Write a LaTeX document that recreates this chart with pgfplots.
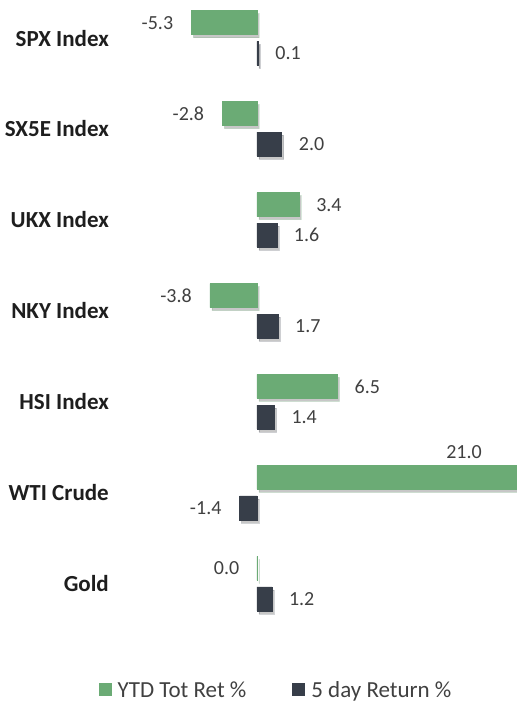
\documentclass[border=0pt]{standalone}
\usepackage{pgfplots}
\pgfplotsset{compat=1.18}
\usepackage{fontspec}
\setmainfont{Carlito}
\usetikzlibrary{shadows}
\definecolor{ytd}{RGB}{107,171,117}
\definecolor{fday}{RGB}{55,62,73}
\definecolor{lbl}{RGB}{64,64,64}
\definecolor{cat}{RGB}{30,30,30}

\pgfplotstableread{
y x
0 -5.3
1 -2.8
2 3.4
3 -3.8
4 6.5
5 21.0
6 0.04
}\ytdtab

\pgfplotstableread{
y x
0 0.1
1 2.0
2 1.6
3 1.7
4 1.4
5 -1.4
6 1.2
}\fdaytab

% labels left of bar ends
\pgfplotstableread{
x y lab
-5.3 -0.168 -5.3
-2.8 0.832 -2.8
-3.8 2.832 -3.8
0.04 5.832 0.0
-1.4 5.168 -1.4
}\labeast

% labels right of bar ends
\pgfplotstableread{
x y lab
3.4 1.832 3.4
6.5 3.832 6.5
0.1 0.168 0.1
2.0 1.168 2.0
1.6 2.168 1.6
1.7 3.168 1.7
1.4 4.168 1.4
1.2 6.168 1.2
}\labwest

% label above the long bar
\pgfplotstableread{
x y lab
21.0 4.832 21.0
}\labtop

\tikzset{vlab/.style={inner sep=0pt, font=\fontsize{20}{24}\selectfont, text=lbl}}

\begin{document}
\begin{tikzpicture}
\path[use as bounding box] (-110pt,0pt) rectangle (407pt,-705pt);
\begin{axis}[
  at={(0pt,0pt)}, anchor=north west,
  scale only axis, width=407pt, height=640pt,
  xmin=-11.87, xmax=21, ymin=-0.418, ymax=6.62,
  y dir=reverse,
  clip=false,
  axis line style={draw=none},
  major tick length=0pt,
  xtick=\empty,
  ytick={0,...,6},
  yticklabels={SPX Index, SX5E Index, UKX Index, NKY Index, HSI Index, WTI Crude, Gold},
  yticklabel style={font=\fontsize{23}{26}\selectfont\bfseries, text=cat, inner sep=0pt, anchor=east, xshift=-1pt},
  legend columns=2,
  legend cell align=left,
  legend style={at={(0.408,-0.078)}, anchor=center, draw=none, fill=none,
    font=\fontsize{23}{26}\selectfont, text=lbl,
    /tikz/every even column/.append style={column sep=44pt}},
]
\addplot[xbar, bar width=0.264, bar shift=-0.168, fill=ytd, draw=ytd, line width=0.8pt,
  drop shadow={shadow xshift=2pt, shadow yshift=-3pt, opacity=0.22, fill=black}, forget plot]
  table[x=x, y=y] {\ytdtab};
\addplot[xbar, bar width=0.264, bar shift=0.168, fill=fday, draw=fday, line width=0.5pt,
  drop shadow={shadow xshift=2pt, shadow yshift=-3pt, opacity=0.22, fill=black}, forget plot]
  table[x=x, y=y] {\fdaytab};
\addplot[draw=none, mark=none, forget plot,
  nodes near coords, point meta=explicit symbolic,
  nodes near coords style={vlab, anchor=east, xshift=-18pt}]
  table[x=x, y=y, meta=lab] {\labeast};
\addplot[draw=none, mark=none, forget plot,
  nodes near coords, point meta=explicit symbolic,
  nodes near coords style={vlab, anchor=west, xshift=17pt}]
  table[x=x, y=y, meta=lab] {\labwest};
\addplot[draw=none, mark=none, forget plot,
  nodes near coords, point meta=explicit symbolic,
  nodes near coords style={vlab, anchor=east, xshift=-35pt, yshift=25pt}]
  table[x=x, y=y, meta=lab] {\labtop};
\addlegendimage{legend image code/.code={\fill[ytd, draw=none] (0pt,-6.5pt) rectangle (13pt,6.5pt); \path[draw=none, fill=none] (0pt,0pt) rectangle (17pt,0.1pt);}}
\addlegendentry{YTD Tot Ret \%}
\addlegendimage{legend image code/.code={\fill[fday, draw=none] (0pt,-6.5pt) rectangle (13pt,6.5pt); \path[draw=none, fill=none] (0pt,0pt) rectangle (17pt,0.1pt);}}
\addlegendentry{5 day Return \%}
\end{axis}
\end{tikzpicture}
\end{document}
